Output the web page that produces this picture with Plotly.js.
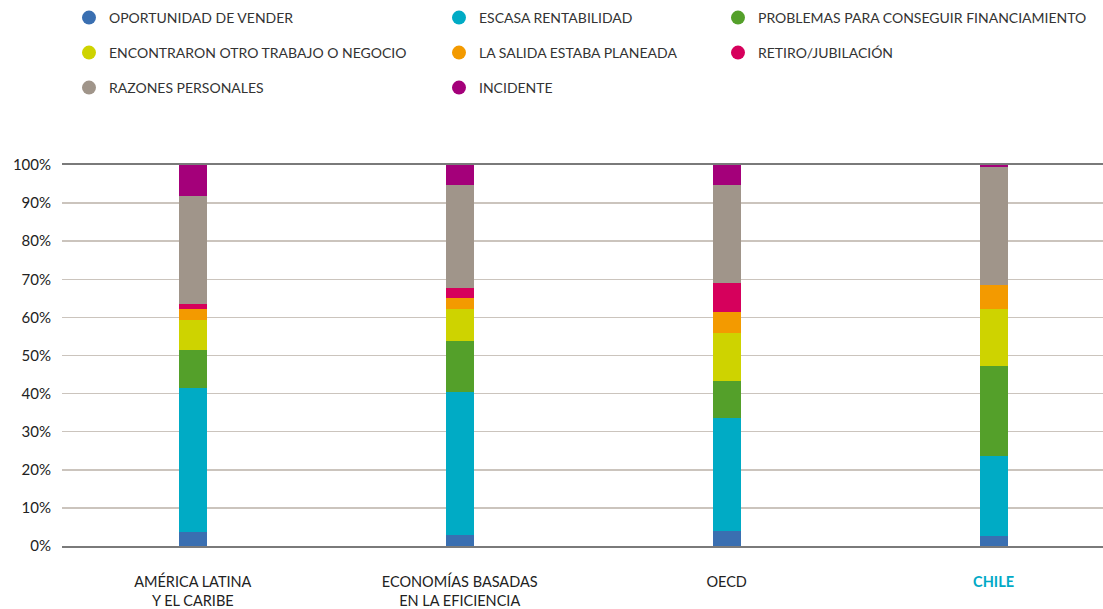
<!DOCTYPE html>
<html>
<head>
<meta charset="utf-8">
<script src="https://cdn.plot.ly/plotly-3.0.1.min.js"></script>
<style>html,body{margin:0;padding:0;background:#fff;}#chart{width:1103px;height:609px;}</style>
</head>
<body>
<div id="chart"></div>
<script>
// Categories
const categories = ['AMÉRICA LATINA', 'ECONOMÍAS BASADAS', 'OECD', 'CHILE'];
const tickLabels = ['AMÉRICA LATINA<br>Y EL CARIBE', 'ECONOMÍAS BASADAS<br>EN LA EFICIENCIA', 'OECD', '<b><span style="color:#00a9c6">CHILE</span></b>'];

// Series (percent of exits)
const seriesNames = [
  'OPORTUNIDAD DE VENDER',
  'ESCASA RENTABILIDAD',
  'PROBLEMAS PARA CONSEGUIR FINANCIAMIENTO',
  'ENCONTRARON OTRO TRABAJO O NEGOCIO',
  'LA SALIDA ESTABA PLANEADA',
  'RETIRO/JUBILACIÓN',
  'RAZONES PERSONALES',
  'INCIDENTE'
];
const oportunidadVender   = [3.7, 2.9, 3.9, 2.6];
const escasaRentabilidad  = [37.8, 37.6, 29.8, 21.1];
const problemasFinanc     = [10.0, 13.4, 9.7, 23.6];
const encontraronTrabajo  = [7.7, 8.4, 12.6, 15.0];
const salidaPlaneada      = [2.9, 2.9, 5.5, 6.3];
const retiroJubilacion    = [1.3, 2.4, 7.4, 0.0];
const razonesPersonales   = [28.4, 27.1, 25.8, 30.9];
const incidente           = [8.2, 5.3, 5.3, 0.5];

const seriesValues = [oportunidadVender, escasaRentabilidad, problemasFinanc, encontraronTrabajo,
  salidaPlaneada, retiroJubilacion, razonesPersonales, incidente];
const colors = ['#3a6fb1', '#00abc5', '#54a02a', '#ced300', '#f39a00', '#d6005c', '#a0958a', '#a4007a'];

// legend placement: [column, row]
const legendPos = [[0,0],[1,0],[2,0],[0,1],[1,1],[2,1],[0,2],[1,2]];
const colX = [69, 439, 718];
const rowY = [18, 53, 88];

const W = 1103, H = 609;
const M = {l: 62, r: 0, t: 165, b: 63};
const PW = W - M.l - M.r, PH = H - M.t - M.b;
const traces = [];
seriesNames.forEach((name, i) => {
  traces.push({
    type: 'bar', x: categories, y: seriesValues[i], name: name,
    marker: {color: colors[i], line: {width: 0}}, width: 0.105,
    showlegend: false, hoverinfo: 'name+y'
  });
});
const layout = {
  width: W, height: H,
  paper_bgcolor: '#fff', plot_bgcolor: '#fff',
  margin: M,
  barmode: 'stack',
  bargap: 0,
  font: {family: 'Lato, "Open Sans", sans-serif', color: '#222', size: 14},
  xaxis: {
    type: 'category', range: [-0.49, 3.41],
    tickvals: categories, ticktext: tickLabels,
    showgrid: false, zeroline: false,
    showline: true, linecolor: '#7a7a7a', linewidth: 2, mirror: true,
    ticks: 'outside', ticklen: 22, tickcolor: 'rgba(0,0,0,0)',
    tickfont: {size: 14.5, color: '#222'}, automargin: false
  },
  yaxis: {
    range: [0, 100], dtick: 10, ticksuffix: '%',
    showgrid: true, gridcolor: '#cbc4bd', gridwidth: 1.5,
    zeroline: false, showline: false,
    ticks: '', ticklabelstandoff: 10,
    tickfont: {size: 15, color: '#222'}, automargin: false
  },
  showlegend: true
};
seriesNames.forEach((name, i) => {
  const lid = i === 0 ? 'legend' : 'legend' + (i + 1);
  const [c, r] = legendPos[i];
  traces.push({
    type: 'scatter', mode: 'markers', x: [null], y: [null], name: name,
    marker: {color: colors[i], size: 14, symbol: 'circle'},
    legend: lid, showlegend: true, hoverinfo: 'skip'
  });
  layout[lid] = {
    xref: 'paper', yref: 'paper',
    x: (colX[c] - M.l) / PW, y: (H - M.b - rowY[r]) / PH,
    xanchor: 'left', yanchor: 'middle',
    bgcolor: 'rgba(0,0,0,0)', borderwidth: 0,
    itemwidth: 30, itemclick: false, itemdoubleclick: false,
    font: {size: 14, color: '#333', family: 'Lato, "Open Sans", sans-serif'}
  };
});
Plotly.newPlot('chart', traces, layout, {displayModeBar: false, staticPlot: true});
</script>
</body>
</html>
